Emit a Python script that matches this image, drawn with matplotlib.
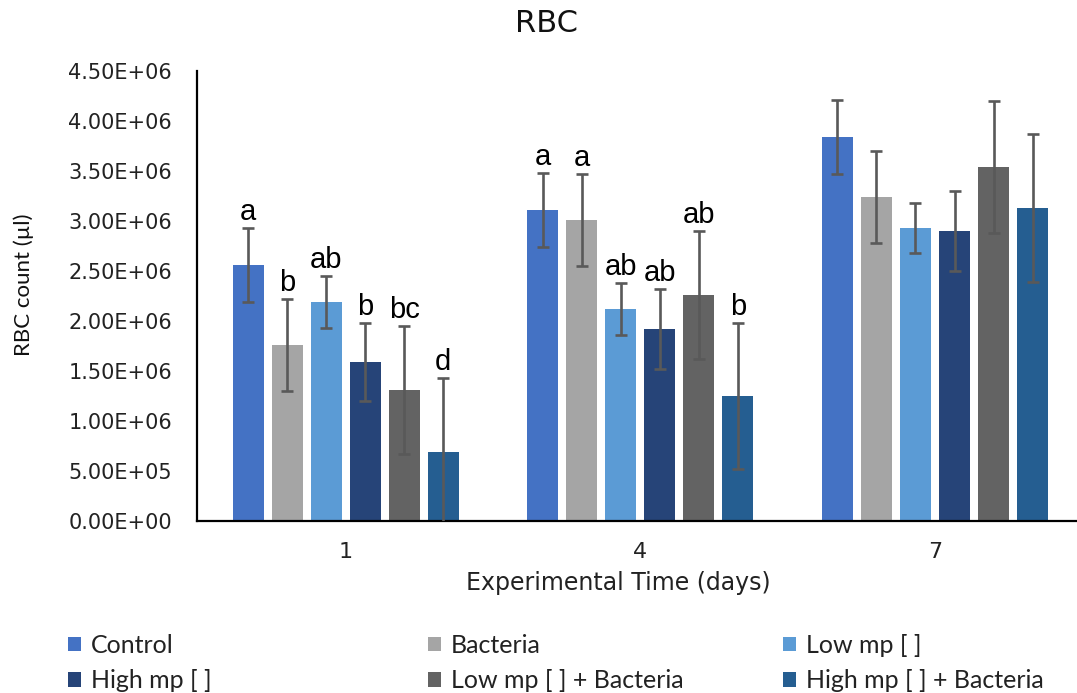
import numpy as np
import matplotlib
matplotlib.use("Agg")
import matplotlib.pyplot as plt
from matplotlib.ticker import FuncFormatter

# ---- data -------------------------------------------------------------
days = ["1", "4", "7"]
groups = ["Control", "Bacteria", "Low mp [ ]", "High mp [ ]",
          "Low mp [ ] + Bacteria", "High mp [ ] + Bacteria"]

control = [2.56e6, 3.11e6, 3.84e6]
bacteria = [1.76e6, 3.01e6, 3.24e6]
low_mp = [2.19e6, 2.12e6, 2.93e6]
high_mp = [1.59e6, 1.92e6, 2.90e6]
low_mp_bact = [1.31e6, 2.26e6, 3.54e6]
high_mp_bact = [0.69e6, 1.25e6, 3.13e6]

control_err = [0.37e6, 0.37e6, 0.37e6]
bacteria_err = [0.46e6, 0.46e6, 0.46e6]
low_mp_err = [0.26e6, 0.26e6, 0.25e6]
high_mp_err = [0.39e6, 0.40e6, 0.40e6]
low_mp_bact_err = [0.64e6, 0.64e6, 0.66e6]
high_mp_bact_err = [0.74e6, 0.73e6, 0.74e6]

control_sig = ["a", "a", ""]
bacteria_sig = ["b", "a", ""]
low_mp_sig = ["ab", "ab", ""]
high_mp_sig = ["b", "ab", ""]
low_mp_bact_sig = ["bc", "ab", ""]
high_mp_bact_sig = ["d", "b", ""]

yticks = [0, 5e5, 1e6, 1.5e6, 2e6, 2.5e6, 3e6, 3.5e6, 4e6, 4.5e6]

colors = ["#4472C4", "#A5A5A5", "#5B9BD5", "#264478", "#636363", "#255E91"]

means = [control, bacteria, low_mp, high_mp, low_mp_bact, high_mp_bact]
errs = [control_err, bacteria_err, low_mp_err, high_mp_err,
        low_mp_bact_err, high_mp_bact_err]
sigs = [control_sig, bacteria_sig, low_mp_sig, high_mp_sig,
        low_mp_bact_sig, high_mp_bact_sig]

# ---- figure -----------------------------------------------------------
fig = plt.figure(figsize=(10.77, 6.93), dpi=100)
ax = fig.add_axes([197 / 1077, 1 - 521 / 693, 1 - 197 / 1077, (521 - 71) / 693])

x = np.arange(len(days))
slot = 0.1324
width = 0.105
handles = []
for i, (m, e, s, c, name) in enumerate(zip(means, errs, sigs, colors, groups)):
    pos = x + (i - 2.5) * slot
    b = ax.bar(pos, m, width, color=c, label=name, zorder=2)
    ax.errorbar(pos, m, yerr=e, fmt="none", ecolor="#595959",
                elinewidth=1.9, capsize=4.2, capthick=1.9, zorder=3)
    handles.append(b)
    for px, val, er, lab in zip(pos, m, e, s):
        if lab:
            ax.annotate(lab, (px, val + er), xytext=(0, 6),
                        textcoords="offset points", ha="center",
                        va="baseline", fontsize=21,
                        family="Liberation Sans", color="black")

ax.set_xlim(-0.505, 2.482)
ax.set_ylim(0, 4.5e6)
ax.set_yticks(yticks)
ax.yaxis.set_major_formatter(FuncFormatter(lambda v, p: "{:.2E}".format(v)))
ax.set_xticks(x)
ax.set_xticklabels(days)

for side in ("top", "right"):
    ax.spines[side].set_visible(False)
for side in ("left", "bottom"):
    ax.spines[side].set_linewidth(1.6)
    ax.spines[side].set_color("black")

ax.tick_params(axis="y", length=0, pad=18, labelsize=15, labelcolor="#222222")
ax.tick_params(axis="x", length=0, pad=15, labelsize=16, labelcolor="#222222")

# titles and axis labels
fig.text(547 / 1077, 1 - 23 / 693, "RBC", ha="center", va="center",
         fontsize=22, color="#111111")
fig.text(618 / 1077, 1 - 583 / 693, "Experimental Time (days)",
         ha="center", va="center", fontsize=17, color="#222222")
fig.text(24 / 1077, 1 - 285 / 693, "RBC count (\u00b5l)", rotation=90,
         ha="center", va="center", fontsize=16, family="Lato",
         color="#111111")

# legend, three columns
col_x = [68, 428, 783]
order = [[0, 3], [1, 4], [2, 5]]
for cx, idx in zip(col_x, order):
    leg = fig.legend([handles[k] for k in idx], [groups[k] for k in idx],
                     loc="center left",
                     bbox_to_anchor=(cx / 1077, 1 - 663 / 693),
                     frameon=False, borderpad=0, borderaxespad=0,
                     handlelength=0.5, handleheight=0.5,
                     handletextpad=0.42, labelspacing=0.5,
                     prop={"family": "Lato", "size": 18})
    for t in leg.get_texts():
        t.set_color("#222222")

fig.savefig("out.png", dpi=100)
